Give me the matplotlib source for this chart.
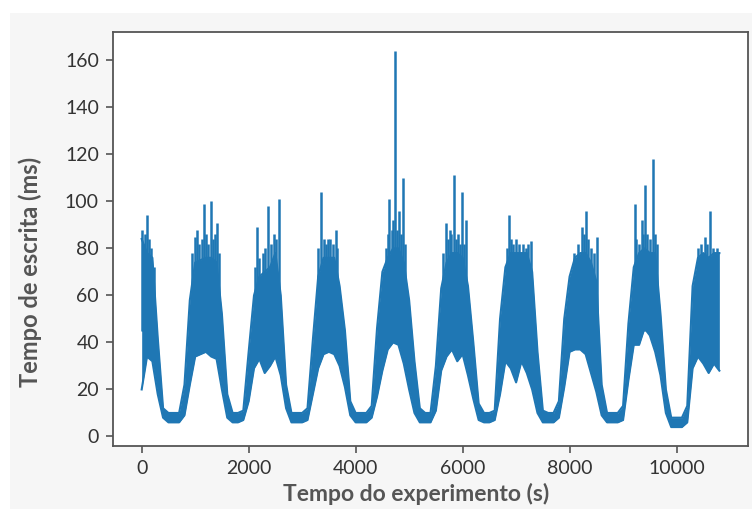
import matplotlib.pyplot as plt
import numpy as np
from matplotlib.patches import Rectangle

# write latency sampled every 100 s: lower and upper edge of the noisy band (ms)
TIME_STEP = 100
LOWER = [
    20, 34, 32, 18, 8, 6, 6, 6, 9, 22,
    34, 35, 36, 34, 33, 20, 8, 6, 6, 7,
    15, 29, 33, 27, 30, 34, 26, 12, 6, 6,
    6, 7, 18, 29, 35, 36, 35, 30, 21, 9,
    6, 6, 6, 8, 17, 28, 37, 40, 39, 31,
    20, 10, 6, 6, 6, 11, 28, 34, 37, 32,
    35, 26, 16, 7, 6, 6, 7, 18, 32, 29,
    23, 32, 27, 20, 10, 6, 6, 6, 8, 21,
    36, 37, 37, 35, 27, 19, 9, 6, 6, 6,
    7, 24, 39, 39, 46, 43, 36, 26, 10, 4,
    4, 4, 6, 29, 34, 31, 27, 31, 28,
]
UPPER = [
    84, 78, 76, 42, 12, 10, 10, 10, 22, 58,
    74, 75, 76, 76, 74, 52, 18, 10, 10, 11,
    36, 60, 68, 70, 72, 78, 60, 22, 10, 10,
    10, 12, 41, 68, 76, 76, 76, 64, 45, 15,
    10, 10, 10, 13, 46, 70, 76, 80, 80, 74,
    58, 32, 12, 10, 10, 30, 63, 74, 78, 78,
    76, 64, 40, 14, 10, 10, 11, 50, 72, 78,
    78, 78, 78, 70, 36, 11, 10, 10, 15, 50,
    68, 76, 78, 78, 74, 66, 22, 10, 10, 10,
    13, 48, 72, 78, 80, 78, 78, 52, 20, 8,
    8, 8, 13, 64, 76, 78, 76, 78, 78,
]

# isolated latency peaks above the band (time in s, value in ms)
SPIKE_TIMES = [
    0, 30, 60, 100, 140, 170, 230,
    950, 1000, 1040, 1080, 1120, 1160, 1200, 1240, 1300, 1340, 1370, 1410, 1450,
    2120, 2155, 2200, 2260, 2300, 2360, 2420, 2480, 2520, 2565,
    3300, 3345, 3400, 3440, 3485, 3530, 3580, 3625, 3660,
    4560, 4600, 4625, 4680, 4700, 4735, 4770, 4805, 4840, 4885, 4920,
    5640, 5695, 5730, 5760, 5790, 5830, 5870, 5920, 5950, 5990, 6030, 6070,
    6830, 6865, 6900, 6950, 7005, 7050, 7120, 7180, 7230, 7270,
    8080, 8150, 8230, 8270, 8310, 8350, 8400, 8460, 8510,
    9215, 9250, 9300, 9350, 9380, 9415, 9450, 9500, 9560, 9600, 9630,
    10400, 10460, 10525, 10570, 10630, 10680, 10760,
]
SPIKE_VALUES = [
    88, 82, 86, 94, 84, 80, 72,
    78, 85, 88, 82, 84, 99, 86, 82, 100, 84, 86, 91, 78,
    72, 89, 76, 78, 80, 98, 82, 86, 84, 101,
    80, 104, 84, 82, 84, 84, 82, 88, 80,
    80, 86, 101, 88, 92, 164, 88, 96, 86, 110, 82,
    78, 91, 84, 88, 86, 111, 84, 86, 82, 104, 82, 92,
    80, 94, 84, 82, 84, 82, 82, 80, 82, 83,
    78, 82, 89, 86, 96, 84, 80, 78, 85,
    99, 84, 82, 92, 86, 107, 86, 84, 118, 86, 82,
    80, 82, 85, 82, 96, 80, 80,
]

BLUE = "#1f77b4"
GREY = "#555555"

plt.rcParams["font.family"] = ["Lato", "DejaVu Sans"]

fig = plt.figure(figsize=(7.52, 5.09), dpi=100, facecolor="white")
fig.patches.append(Rectangle((0.0133, 0), 1, 0.974, transform=fig.transFigure,
                             facecolor="#f6f6f6", edgecolor="none", zorder=-10))
ax = fig.add_axes([0.150, 0.124, 0.845, 0.813])
ax.set_facecolor("white")

t = np.arange(len(LOWER)) * TIME_STEP
lo = np.array(LOWER)
hi = np.array(UPPER)

ax.fill_between(t, lo, hi, color=BLUE, linewidth=0)
ax.plot(t, hi, color=BLUE, lw=1.5)
ax.plot(t, lo, color=BLUE, lw=1.5)
ax.vlines(SPIKE_TIMES, 45, SPIKE_VALUES, color=BLUE, lw=1.8)

ax.set_xlim(-540, 11340)
ax.set_ylim(-4, 172)
ax.set_xticks(range(0, 10001, 2000))
ax.set_yticks(range(0, 161, 20))

ax.tick_params(colors="#333333", labelsize=14, length=5, width=1.2, pad=5)
ax.tick_params(axis="both", color=GREY)
for spine in ax.spines.values():
    spine.set_color(GREY)
    spine.set_linewidth(1.3)

ax.set_xlabel("Tempo do experimento (s)", fontsize=16.5, fontweight="bold", color=GREY)
ax.set_ylabel("Tempo de escrita (ms)", fontsize=17, fontweight="bold", color=GREY)
ax.xaxis.set_label_coords(0.477, -0.09)
ax.yaxis.set_label_coords(-0.112, 0.42)

fig.savefig("out.png", dpi=100, facecolor=fig.get_facecolor())
